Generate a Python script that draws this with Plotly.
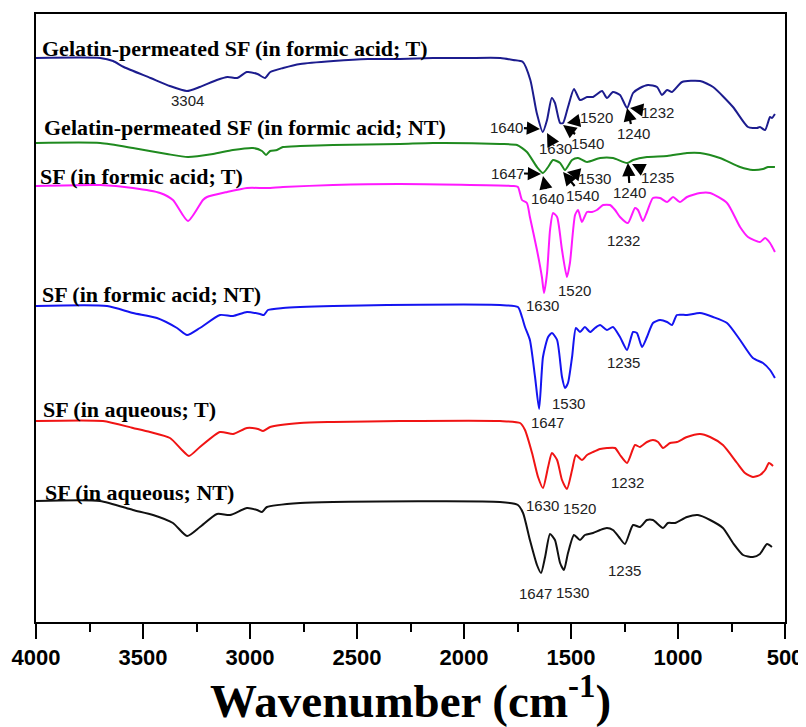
import plotly.graph_objects as go

# ---------------- data (wavenumber cm-1, transmittance a.u. with stacking offset) ----------------
gel_t_wn = [4000, 3700, 3640, 3590, 3465, 3375, 3295, 3235, 3155, 3105, 3060, 3015, 2965, 2930, 2905, 2845, 2765, 2610, 2450, 2300, 2145, 1985, 1830, 1770, 1725, 1690, 1660, 1632, 1612, 1590, 1575, 1551, 1537, 1514, 1486, 1458, 1425, 1397, 1355, 1332, 1304, 1271, 1238, 1210, 1178, 1140, 1098, 1075, 1051, 1028, 981, 897, 836, 743, 673, 631, 617, 593, 570, 561, 547]
gel_t_y = [564, 564, 561, 555, 544, 536, 531, 535, 542, 545, 544, 550, 548, 544, 550, 554, 558, 561, 563, 563, 564, 564, 564, 562, 560, 542, 509, 490, 502, 524, 519, 499, 499, 515, 533, 522, 525, 525, 531, 524, 530, 527, 514, 529, 534, 537, 535, 527, 532, 530, 540, 541, 535, 515, 495, 494, 495, 492, 505, 504, 508]

gel_nt_wn = [4000, 3700, 3547, 3388, 3290, 3173, 3080, 2986, 2944, 2925, 2906, 2874, 2846, 2766, 2612, 2299, 2145, 1832, 1752, 1706, 1659, 1631, 1607, 1584, 1551, 1528, 1495, 1467, 1425, 1364, 1304, 1238, 1210, 1145, 1051, 958, 897, 804, 710, 650, 603, 579, 547]
gel_nt_y = [479, 479, 474, 468, 465, 468, 472, 474, 471, 467, 471, 472, 475, 476, 477, 478, 479, 478, 477, 470, 455, 449, 455, 462, 459, 452, 462, 464, 460, 464, 464, 459, 462, 465, 466, 469, 469, 464, 455, 452, 453, 455, 455]

sf_fa_t_wn = [4000, 3700, 3547, 3420, 3360, 3290, 3220, 3201, 3107, 3014, 2921, 2846, 2612, 2299, 1771, 1748, 1729, 1706, 1692, 1659, 1636, 1626, 1612, 1598, 1584, 1565, 1542, 1519, 1505, 1481, 1467, 1449, 1425, 1402, 1379, 1350, 1318, 1294, 1271, 1234, 1201, 1187, 1164, 1145, 1117, 1084, 1051, 1023, 991, 958, 897, 850, 771, 710, 673, 617, 593, 570, 547]
sf_fa_t_y = [436, 437, 434, 429, 422, 401, 422, 425, 430, 434, 434, 435, 437, 438, 436, 435, 422, 419, 405, 372, 345, 329, 349, 392, 409, 405, 372, 345, 359, 407, 412, 400, 410, 410, 412, 417, 417, 412, 405, 399, 414, 412, 401, 410, 424, 424, 420, 425, 420, 425, 429, 429, 419, 395, 385, 380, 384, 379, 370]

sf_fa_nt_wn = [4000, 3668, 3547, 3435, 3341, 3294, 3234, 3140, 3079, 3014, 2953, 2935, 2916, 2846, 2612, 2360, 1832, 1748, 1729, 1715, 1692, 1668, 1649, 1631, 1607, 1589, 1565, 1542, 1528, 1514, 1495, 1477, 1458, 1435, 1411, 1388, 1364, 1332, 1304, 1271, 1238, 1210, 1192, 1168, 1145, 1117, 1084, 1051, 1028, 1005, 958, 897, 836, 771, 710, 650, 603, 570, 547]
sf_fa_nt_y = [316, 316, 309, 304, 294, 287, 294, 307, 306, 310, 308, 307, 312, 314, 316, 317, 317, 315, 305, 295, 282, 245, 213, 265, 285, 289, 282, 245, 234, 239, 265, 294, 290, 295, 290, 294, 297, 292, 295, 285, 272, 290, 289, 275, 285, 299, 302, 300, 297, 307, 307, 309, 305, 299, 282, 264, 259, 252, 244]

sf_aq_t_wn = [4000, 3687, 3547, 3467, 3374, 3318, 3285, 3234, 3140, 3079, 3014, 2963, 2939, 2906, 2766, 2612, 2299, 1832, 1738, 1715, 1682, 1654, 1631, 1607, 1589, 1565, 1542, 1519, 1495, 1477, 1449, 1425, 1397, 1364, 1332, 1294, 1271, 1238, 1201, 1178, 1145, 1117, 1093, 1070, 1037, 1005, 958, 897, 850, 790, 724, 687, 650, 617, 593, 575, 556]
sf_aq_t_y = [201, 201, 194, 190, 184, 172, 166, 175, 190, 188, 194, 193, 191, 195, 199, 200, 201, 201, 199, 192, 169, 145, 134, 155, 169, 162, 142, 133, 152, 167, 162, 167, 170, 173, 174, 174, 167, 159, 177, 175, 180, 182, 180, 174, 179, 180, 185, 188, 185, 177, 159, 149, 145, 147, 152, 159, 156]

sf_aq_nt_wn = [4000, 3701, 3547, 3453, 3360, 3294, 3234, 3154, 3093, 3014, 2967, 2944, 2921, 2766, 2612, 1832, 1748, 1724, 1692, 1659, 1640, 1621, 1598, 1575, 1551, 1533, 1514, 1486, 1458, 1435, 1397, 1364, 1332, 1304, 1276, 1248, 1210, 1178, 1145, 1117, 1070, 1047, 1014, 958, 907, 850, 790, 743, 696, 650, 617, 584, 561]
sf_aq_nt_y = [121, 121, 112, 107, 99, 86, 95, 108, 107, 114, 112, 110, 115, 119, 120, 120, 117, 109, 82, 57, 49, 65, 88, 82, 59, 52, 69, 87, 82, 87, 89, 92, 94, 92, 85, 78, 97, 95, 102, 102, 94, 99, 99, 105, 107, 102, 94, 79, 67, 65, 68, 78, 75]

series_names = [
    "Gelatin-permeated SF (in formic acid; T)",
    "Gelatin-permeated SF (in formic acid; NT)",
    "SF (in formic acid; T)",
    "SF (in formic acid; NT)",
    "SF (in aqueous; T)",
    "SF (in aqueous; NT)",
]
series_x = [gel_t_wn, gel_nt_wn, sf_fa_t_wn, sf_fa_nt_wn, sf_aq_t_wn, sf_aq_nt_wn]
series_y = [gel_t_y, gel_nt_y, sf_fa_t_y, sf_fa_nt_y, sf_aq_t_y, sf_aq_nt_y]
series_colors = ["#1c1c8e", "#1f8a1f", "#ff19ff", "#1414f0", "#f01414", "#111111"]

# series label anchor (left x in cm-1, centre y in a.u.)
label_x = [3981, 3972, 3991, 3981, 3977, 3967]
label_y = [574, 495, 446, 328, 213, 130]

# plain peak labels: (text, x, y)
peak_labels = [
    ("3304", 3294, 522),
    ("1232", 1257, 382), ("1520", 1486, 332), ("1630", 1635, 317),
    ("1235", 1257, 260), ("1530", 1514, 219), ("1647", 1612, 200),
    ("1232", 1234, 140), ("1630", 1631, 117), ("1520", 1458, 114),
    ("1235", 1252, 52), ("1647", 1668, 29), ("1530", 1495, 30),
]
# arrow peak labels: (text, head_x, head_y, text offset ax, ay in px)
arrow_labels = [
    ("1640", 1645, 493, -33, -2),
    ("1630", 1612, 489, 8, 15),
    ("1540", 1537, 497, 24, 18),
    ("1520", 1519, 499, 30, -6),
    ("1240", 1238, 514, 6, 25),
    ("1232", 1224, 514, 27, 4),
    ("1647", 1640, 448, -34, -1),
    ("1640", 1631, 446, 5, 22),
    ("1540", 1537, 450, 19, 23),
    ("1530", 1519, 450, 28, 6),
    ("1240", 1234, 459, 2, 29),
    ("1235", 1215, 458, 26, 13),
]

fig = go.Figure()
for name, xs, ys, c in zip(series_names, series_x, series_y, series_colors):
    fig.add_trace(go.Scatter(x=xs, y=ys, mode="lines", name=name,
                             line=dict(color=c, width=2, shape="spline", smoothing=0.6)))

serif = "Liberation Serif, Times New Roman, serif"
sans = "Liberation Sans, Arial, sans-serif"
ann = []
for name, lx, ly in zip(series_names, label_x, label_y):
    ann.append(dict(x=lx, y=ly, text="<b>%s</b>" % name, showarrow=False, xanchor="left",
                    yanchor="middle", font=dict(family=serif, size=22, color="black")))
for t, x, y in peak_labels:
    ann.append(dict(x=x, y=y, text=t, showarrow=False, xanchor="center", yanchor="middle",
                    font=dict(family=sans, size=15, color="#222")))
for t, hx, hy, ax, ay in arrow_labels:
    ann.append(dict(x=hx, y=hy, text=t, showarrow=True, ax=ax, ay=ay, arrowhead=2,
                    arrowsize=1.2, arrowwidth=2.2, arrowcolor="black", standoff=0,
                    borderpad=0, font=dict(family=sans, size=15, color="#222")))

# the page body adds an 8px offset, so the figure is smaller and margins compensate
fig.update_layout(
    width=798, height=719,
    margin=dict(l=28, r=21, t=6, b=105, autoexpand=False),
    paper_bgcolor="white", plot_bgcolor="white",
    showlegend=False,
    annotations=ann,
    xaxis=dict(range=[4000, 500], tickvals=[4000, 3500, 3000, 2500, 2000, 1500, 1000, 500],
               ticks="outside", ticklen=15, tickwidth=2, tickcolor="black",
               minor=dict(dtick=250, tick0=0, ticks="outside", ticklen=8, tickwidth=2, tickcolor="black"),
               showline=True, linewidth=2, linecolor="black", mirror=True,
               showgrid=False, zeroline=False, automargin=False, ticklabeloverflow="allow",
               tickfont=dict(family=sans, size=22, color="black", weight="bold"),
               title=dict(text="<b>Wavenumber (cm<sup>-1</sup>)</b>", standoff=5,
                          font=dict(family=serif, size=47, color="black"))),
    yaxis=dict(range=[0, 608], showticklabels=False, ticks="", showline=True, linewidth=2,
               linecolor="black", mirror=True, showgrid=False, zeroline=False, automargin=False),
)
fig.write_html("out.html")
